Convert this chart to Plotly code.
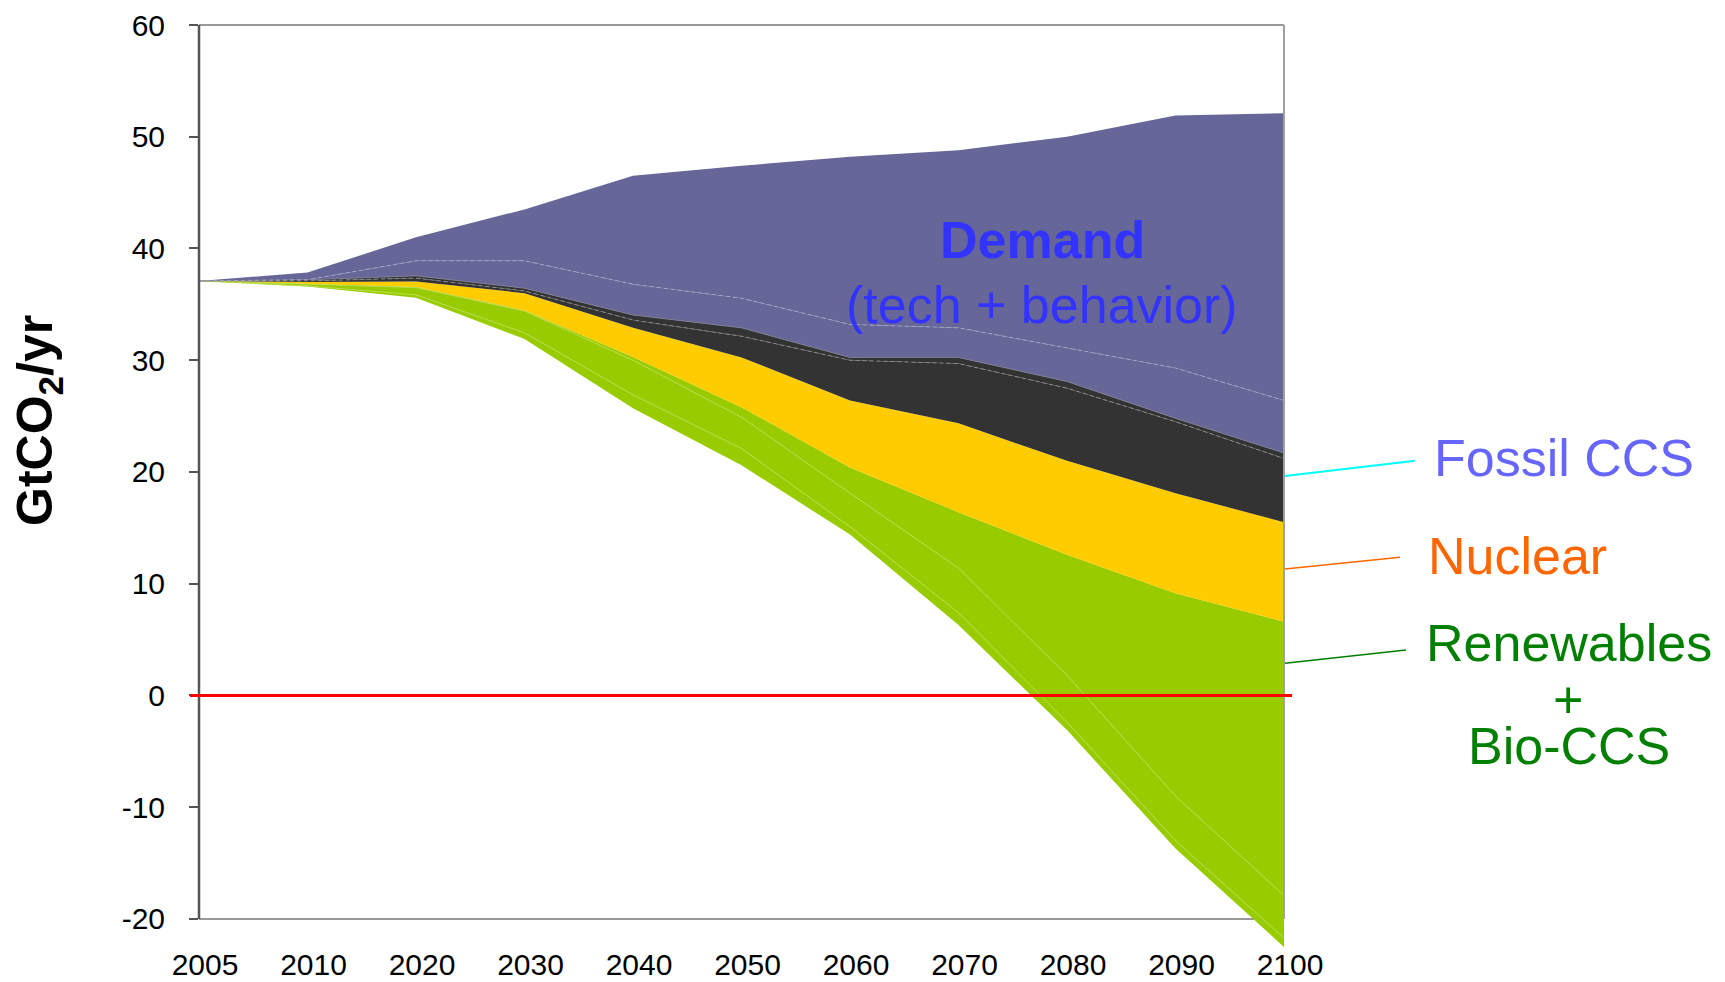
import plotly.graph_objects as go

# ---------------- data (GtCO2/yr, stacked layer boundaries) ----------------
years = ["2005", "2010", "2020", "2030", "2040", "2050", "2060", "2070", "2080", "2090", "2100"]
net_emissions = [37.1, 36.6, 35.6, 31.9, 25.7, 20.6, 14.4, 6.3, -3.1, -13.7, -22.5]
renew_level_1 = [37.1, 36.65, 35.85, 32.45, 26.9, 22.1, 15.1, 7.4, -2.4, -13.0, -21.7]
renew_level_2 = [37.1, 36.8, 36.5, 34.4, 30.0, 24.9, 18.1, 11.4, 1.8, -9.0, -17.9]
renew_top = [37.1, 36.85, 36.55, 34.45, 30.3, 25.8, 20.4, 16.4, 12.6, 9.15, 6.6]
nuclear_top = [37.1, 37.0, 37.05, 36.0, 32.9, 30.25, 26.4, 24.35, 21.0, 18.1, 15.5]
ccs_mid = [37.1, 37.1, 37.35, 36.2, 33.6, 32.15, 30.0, 29.7, 27.5, 24.5, 21.2]
ccs_top = [37.1, 37.2, 37.55, 36.45, 34.05, 32.9, 30.25, 30.25, 28.1, 24.8, 21.7]
demand_mid = [37.1, 37.2, 38.9, 38.9, 36.8, 35.55, 33.2, 32.9, 31.1, 29.3, 26.4]
baseline = [37.1, 37.85, 41.0, 43.5, 46.5, 47.4, 48.2, 48.8, 50.0, 51.9, 52.1]

y_ticks = [-20, -10, 0, 10, 20, 30, 40, 50, 60]
y_ticktext = ["-20", "-10", "0", "10", "20", "30", "40", "50", "60"]

# ---------------- styling ----------------
FONT = "Arial, Liberation Sans, sans-serif"
PURPLE = "#666699"
BLACK = "#333333"
YELLOW = "#FFCC00"
GREEN = "#99CC00"

W, H = 1725, 982
ML, MR, MT, MB = 199, 441, 25, 34
Y_MIN, Y_MAX = -22.6, 60
PLOT_W = W - ML - MR
PLOT_H = H - MT - MB


def px_x(px):
    return (px - ML) / PLOT_W


def px_y(py):
    return (H - MB - py) / PLOT_H


def val_y(v):
    return (v - Y_MIN) / (Y_MAX - Y_MIN)


x = list(range(len(years)))
fig = go.Figure()

# fills (bottom to top)
fig.add_trace(go.Scatter(x=x, y=net_emissions, mode="lines", line=dict(width=0),
                         showlegend=False, hoverinfo="skip"))
for ys, col in [(renew_level_1, GREEN), (renew_level_2, GREEN), (renew_top, GREEN),
                (nuclear_top, YELLOW), (ccs_mid, BLACK), (ccs_top, BLACK),
                (demand_mid, PURPLE), (baseline, PURPLE)]:
    fig.add_trace(go.Scatter(x=x, y=ys, mode="lines", line=dict(width=0),
                             fill="tonexty", fillcolor=col, showlegend=False,
                             hoverinfo="skip"))

# thin internal boundary lines
fig.add_trace(go.Scatter(x=x, y=renew_level_1, mode="lines",
                         line=dict(color="#B8DC4A", width=1), showlegend=False, hoverinfo="skip"))
fig.add_trace(go.Scatter(x=x, y=renew_level_2, mode="lines",
                         line=dict(color="#B8DC4A", width=1), showlegend=False, hoverinfo="skip"))
fig.add_trace(go.Scatter(x=x, y=ccs_mid, mode="lines",
                         line=dict(color="#8A8A8A", width=1, dash="4px,3px"), showlegend=False, hoverinfo="skip"))
fig.add_trace(go.Scatter(x=x, y=ccs_top, mode="lines",
                         line=dict(color="#7A7A90", width=1), showlegend=False, hoverinfo="skip"))
fig.add_trace(go.Scatter(x=x, y=demand_mid, mode="lines",
                         line=dict(color="#A3A3C8", width=1, dash="4px,3px"), showlegend=False, hoverinfo="skip"))

shapes = []
# frame
shapes.append(dict(type="line", xref="paper", yref="paper", x0=0, x1=1, y0=val_y(-20), y1=val_y(-20),
                   line=dict(color="#999999", width=2), layer="below"))
shapes.append(dict(type="line", xref="paper", yref="paper", x0=0, x1=1, y0=val_y(60), y1=val_y(60),
                   line=dict(color="#999999", width=2), layer="above"))
shapes.append(dict(type="line", xref="paper", yref="paper", x0=1, x1=1, y0=val_y(-20), y1=val_y(60),
                   line=dict(color="#A0A0A0", width=2), layer="above"))
shapes.append(dict(type="line", xref="paper", yref="paper", x0=0, x1=0, y0=val_y(-20), y1=val_y(60),
                   line=dict(color="#555555", width=2.5), layer="above"))
# zero line
shapes.append(dict(type="line", xref="paper", yref="paper", x0=px_x(190), x1=px_x(1292),
                   y0=val_y(0), y1=val_y(0), line=dict(color="#FF0000", width=3), layer="above"))
# connector lines
shapes.append(dict(type="line", xref="paper", yref="paper", x0=px_x(1285), y0=px_y(476),
                   x1=px_x(1415), y1=px_y(460.7), line=dict(color="#00FFFF", width=2)))
shapes.append(dict(type="line", xref="paper", yref="paper", x0=px_x(1285), y0=px_y(569),
                   x1=px_x(1400), y1=px_y(557.3), line=dict(color="#FF6600", width=1.5)))
shapes.append(dict(type="line", xref="paper", yref="paper", x0=px_x(1285), y0=px_y(663.3),
                   x1=px_x(1406), y1=px_y(650), line=dict(color="#007F00", width=1.5)))

annotations = []


def label(text, px, py, color, size=52, bold=False):
    annotations.append(dict(text=("<b>%s</b>" % text) if bold else text,
                            xref="paper", yref="paper", x=px_x(px), y=px_y(py),
                            xanchor="center", yanchor="middle", showarrow=False,
                            font=dict(family=FONT, size=size, color=color)))


label("Demand", 1042, 240, "#3333FF", bold=True)
label("(tech + behavior)", 1042, 305, "#3333FF")
label("Fossil CCS", 1564, 458, "#6666FF")
label("Nuclear", 1517, 556, "#FF6600")
label("Renewables", 1569, 643, "#007F00")
label("+", 1568, 700, "#007F00")
label("Bio-CCS", 1569, 746, "#007F00")

annotations.append(dict(text="<b>GtCO<sub>2</sub>/yr</b>", xref="paper", yref="paper",
                        x=px_x(38), y=px_y(421), textangle=-90, showarrow=False,
                        xanchor="center", yanchor="middle",
                        font=dict(family=FONT, size=50, color="#000000")))

fig.update_layout(
    width=W, height=H,
    margin=dict(l=ML, r=MR, t=MT, b=MB, pad=0, autoexpand=False),
    paper_bgcolor="white", plot_bgcolor="white",
    showlegend=False,
    shapes=shapes, annotations=annotations,
    xaxis=dict(range=[0, len(years) - 1], tickvals=x, ticktext=years, showgrid=False,
               zeroline=False, showline=False, ticks="", ticklabelshift=6, ticklabelstandoff=-4,
               automargin=False,
               tickfont=dict(family=FONT, size=30, color="#000000")),
    yaxis=dict(range=[Y_MIN, Y_MAX], tickvals=y_ticks, ticktext=y_ticktext, showgrid=False,
               zeroline=False, showline=False, ticks="outside", ticklen=9, tickwidth=2,
               tickcolor="#555555", ticklabelstandoff=18, automargin=False,
               tickfont=dict(family=FONT, size=30, color="#000000")),
)

fig.write_html("out.html", config={"displayModeBar": False},
               post_script="document.body.style.margin='0';document.body.style.overflow='hidden';")
